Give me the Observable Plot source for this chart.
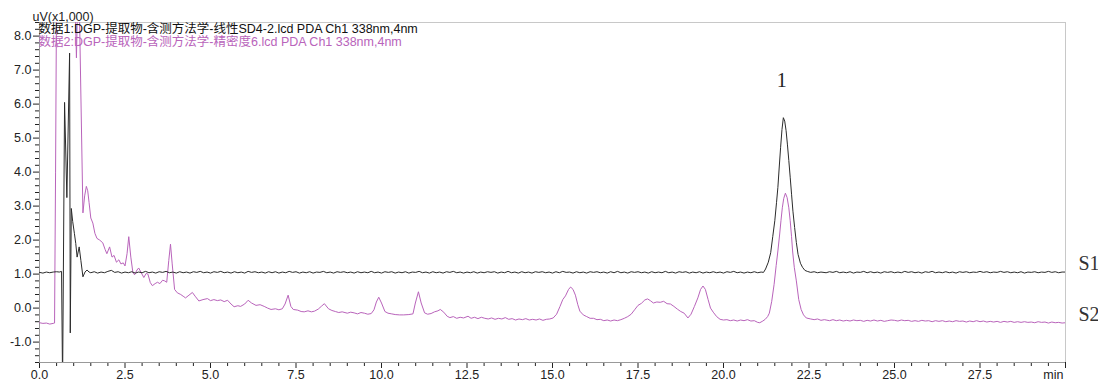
<!DOCTYPE html>
<html><head><meta charset="utf-8">
<script src="https://cdn.jsdelivr.net/npm/d3@7"></script>
<script src="https://cdn.jsdelivr.net/npm/@observablehq/plot@0.6"></script>
<style>html,body{margin:0;padding:0;background:#fff;overflow:hidden}</style>
</head><body><div id="chart"></div>
<script>
// ---- data (time in min, signal in uV x1,000) ----
const xTicks = [0,2.5,5,7.5,10,12.5,15,17.5,20,22.5,25,27.5,30];
const xTickLabels = ["0.0","2.5","5.0","7.5","10.0","12.5","15.0","17.5","20.0","22.5","25.0","27.5",""];
const xUnit = "min";
const yTicks = [-1,0,1,2,3,4,5,6,7,8];
const yTickLabels = ["-1.0","0.0","1.0","2.0","3.0","4.0","5.0","6.0","7.0","8.0"];
const yUnit = "uV(x1,000)";
const legendLines = [
  "数据1:DGP-提取物-含测方法学-线性SD4-2.lcd PDA Ch1 338nm,4nm",
  "数据2:DGP-提取物-含测方法学-精密度6.lcd PDA Ch1 338nm,4nm"
];
const seriesNames = ["S1","S2"];
const peakLabels = [{time: 21.75, label: "1"}];

// S1 (black): flat list of time, value pairs
const s1Data = [
0,1.05, 0.1,1.03, 0.2,1.06, 0.3,1.04, 0.4,1.06, 0.5,1.07, 0.58,1.06, 0.645,1.08, 0.675,-2.2, 0.733,6.05, 0.8,3.25, 0.88,7.5, 0.9,-0.73, 0.93,2.93, 0.97,2.55, 1.02,2.2, 1.06,1.9, 1.1,1.5, 1.16,1.8, 1.21,1.4, 1.27,0.92, 1.33,1.06, 1.39,1.12, 1.45,1.06,
1.5,1.04, 1.6,1.07, 1.7,1.03, 1.8,1.06, 1.9,1.04, 2.0,1.08, 2.1,1.11, 2.2,1.05, 2.3,1.07, 2.4,1.03,
2.5,1.06, 2.6,1.04, 2.7,1.07, 2.8,1.03, 2.9,1.06, 3.0,1.04, 3.1,1.08, 3.2,1.04, 3.3,1.06, 3.4,1.03,
3.5,1.07, 3.6,1.05, 3.7,1.08, 3.8,1.04, 3.9,1.06, 4.0,1.03, 4.1,1.07, 4.2,1.04, 4.3,1.06, 4.4,1.03,
4.5,1.07, 4.6,1.05, 4.7,1.08, 4.8,1.04, 4.9,1.06, 5.0,1.03, 5.1,1.07, 5.2,1.05, 5.3,1.08, 5.4,1.04,
5.5,1.06, 5.6,1.03, 5.7,1.07, 5.8,1.04, 5.9,1.06, 6.0,1.03, 6.1,1.08, 6.2,1.05, 6.3,1.07, 6.4,1.04,
6.5,1.06, 6.6,1.03, 6.7,1.07, 6.8,1.04, 6.9,1.07, 7.0,1.03, 7.1,1.06, 7.2,1.04, 7.3,1.08, 7.4,1.05,
7.5,1.07, 7.6,1.03, 7.7,1.06, 7.8,1.04, 7.9,1.07, 8.0,1.03, 8.1,1.06, 8.2,1.05, 8.3,1.08, 8.4,1.04,
8.5,1.06, 8.6,1.03, 8.7,1.07, 8.8,1.05, 8.9,1.07, 9.0,1.04, 9.1,1.06, 9.2,1.03, 9.3,1.07, 9.4,1.04,
9.5,1.06, 9.6,1.04, 9.7,1.08, 9.8,1.04, 9.9,1.06, 10.0,1.03, 10.1,1.07, 10.2,1.05, 10.3,1.07, 10.4,1.03,
10.5,1.06, 10.6,1.04, 10.7,1.07, 10.8,1.03, 10.9,1.06, 11.0,1.05, 11.1,1.08, 11.2,1.04, 11.3,1.06, 11.4,1.03,
11.5,1.07, 11.6,1.04, 11.7,1.06, 11.8,1.03, 11.9,1.07, 12.0,1.05, 12.1,1.08, 12.2,1.04, 12.3,1.06, 12.4,1.03,
12.5,1.06, 12.6,1.04, 12.7,1.07, 12.8,1.03, 12.9,1.06, 13.0,1.04, 13.1,1.07, 13.2,1.05, 13.3,1.07, 13.4,1.03,
13.5,1.06, 13.6,1.04, 13.7,1.08, 13.8,1.04, 13.9,1.06, 14.0,1.03, 14.1,1.07, 14.2,1.04, 14.3,1.06, 14.4,1.03,
14.5,1.07, 14.6,1.05, 14.7,1.07, 14.8,1.04, 14.9,1.06, 15.0,1.03, 15.1,1.07, 15.2,1.04, 15.3,1.08, 15.4,1.05,
15.5,1.06, 15.6,1.03, 15.7,1.07, 15.8,1.04, 15.9,1.06, 16.0,1.03, 16.1,1.07, 16.2,1.05, 16.3,1.07, 16.4,1.04,
16.5,1.06, 16.6,1.03, 16.7,1.07, 16.8,1.04, 16.9,1.08, 17.0,1.04, 17.1,1.06, 17.2,1.03, 17.3,1.07, 17.4,1.05,
17.5,1.07, 17.6,1.04, 17.7,1.06, 17.8,1.03, 17.9,1.07, 18.0,1.04, 18.1,1.06, 18.2,1.04, 18.3,1.08, 18.4,1.04,
18.5,1.06, 18.6,1.03, 18.7,1.07, 18.8,1.05, 18.9,1.07, 19.0,1.03, 19.1,1.06, 19.2,1.04, 19.3,1.07, 19.4,1.03,
19.5,1.06, 19.6,1.04, 19.7,1.07, 19.8,1.04, 19.9,1.06, 20.0,1.03, 20.1,1.07, 20.2,1.05, 20.3,1.08, 20.4,1.04,
20.5,1.06, 20.6,1.03, 20.7,1.06, 20.8,1.04, 20.9,1.07, 21.0,1.04, 21.1,1.06, 21.17,1.05,
21.23,1.15, 21.31,1.35, 21.38,1.63, 21.44,2.1, 21.5,2.57, 21.55,3.1, 21.59,3.55, 21.63,4.15, 21.67,4.73, 21.71,5.25, 21.75,5.6, 21.79,5.5, 21.83,5.22, 21.87,4.8, 21.91,4.34, 21.95,3.85, 21.99,3.35, 22.03,2.85, 22.08,2.37, 22.13,1.93, 22.18,1.58, 22.25,1.32, 22.31,1.2, 22.38,1.11, 22.45,1.08,
22.55,1.05, 22.65,1.07, 22.75,1.04, 22.85,1.06, 23.0,1.04, 23.1,1.07, 23.2,1.05, 23.3,1.08, 23.4,1.04, 23.5,1.06,
23.6,1.04, 23.7,1.07, 23.8,1.03, 23.9,1.06, 24.0,1.05, 24.1,1.08, 24.2,1.04, 24.3,1.07, 24.4,1.04, 24.5,1.06,
24.6,1.03, 24.7,1.07, 24.8,1.05, 24.9,1.07, 25.0,1.04, 25.1,1.06, 25.2,1.04, 25.3,1.08, 25.4,1.05, 25.5,1.07,
25.6,1.04, 25.7,1.06, 25.8,1.03, 25.9,1.07, 26.0,1.05, 26.1,1.08, 26.2,1.04, 26.3,1.06, 26.4,1.04, 26.5,1.07,
26.6,1.04, 26.7,1.06, 26.8,1.03, 26.9,1.07, 27.0,1.05, 27.1,1.07, 27.2,1.04, 27.3,1.06, 27.4,1.05, 27.5,1.08,
27.6,1.05, 27.7,1.07, 27.8,1.04, 27.9,1.06, 28.0,1.05, 28.1,1.08, 28.2,1.05, 28.3,1.07, 28.4,1.04, 28.5,1.06,
28.6,1.04, 28.7,1.07, 28.8,1.03, 28.9,1.06, 29.0,1.05, 29.1,1.07, 29.2,1.04, 29.3,1.06, 29.4,1.05, 29.5,1.08,
29.6,1.05, 29.7,1.07, 29.8,1.04, 29.9,1.06, 30.0,1.06
];

// S2 (purple): flat list of time, value pairs
const s2Data = [
0,-0.43, 0.1,-0.45, 0.2,-0.44, 0.3,-0.47, 0.4,-0.45, 0.44,-0.44, 0.47,4.0, 0.5,9.5, 0.6,13, 0.8,14, 1.0,11, 1.05,8.6, 1.08,7.36, 1.11,8.8, 1.14,10, 1.17,8.6,
1.27,2.8, 1.32,3.3, 1.37,3.58, 1.41,3.45, 1.45,3.1, 1.5,2.65, 1.56,2.5, 1.62,2.2, 1.68,2.05, 1.76,2.0, 1.85,1.92, 1.92,1.72, 1.97,1.6,
2.05,1.8, 2.12,1.5, 2.18,1.55, 2.25,1.35, 2.32,1.42, 2.38,1.3, 2.45,1.33, 2.5,1.24, 2.56,1.6, 2.61,2.1, 2.67,1.5, 2.73,1.05, 2.78,0.98,
2.85,1.12, 2.9,1.18, 2.97,1.05, 3.05,0.9, 3.12,1.02, 3.17,1.0, 3.24,0.75, 3.3,0.66, 3.38,0.72, 3.45,0.76, 3.52,0.72, 3.6,0.82, 3.66,0.8,
3.72,0.76, 3.78,1.4, 3.83,1.88, 3.88,1.3, 3.95,0.55, 4.03,0.45, 4.13,0.4, 4.2,0.35, 4.27,0.3, 4.37,0.38, 4.47,0.46, 4.55,0.35, 4.66,0.21,
4.78,0.25, 4.91,0.28, 5.0,0.22, 5.1,0.25, 5.2,0.22, 5.3,0.24, 5.4,0.19, 5.5,0.23, 5.6,0.12, 5.69,0.04, 5.8,0.07, 5.88,0.05, 6.0,0.12,
6.1,0.23, 6.2,0.15, 6.33,0.08, 6.45,0.1, 6.57,0.05, 6.67,0.0, 6.77,-0.04, 6.9,-0.02, 7.0,-0.05, 7.1,-0.02, 7.18,0.12, 7.27,0.38, 7.35,0.05,
7.42,-0.04, 7.55,-0.06, 7.65,-0.1, 7.74,-0.11, 7.85,-0.08, 7.95,-0.11, 8.04,-0.09, 8.15,-0.03, 8.25,0.06, 8.33,0.13, 8.45,-0.02, 8.55,-0.07,
8.65,-0.1, 8.75,-0.13, 8.85,-0.11, 9.0,-0.15, 9.1,-0.12, 9.2,-0.14, 9.3,-0.17, 9.4,-0.13, 9.5,-0.15, 9.6,-0.18, 9.7,-0.16, 9.78,-0.05,
9.85,0.18, 9.92,0.32, 10.0,0.15, 10.1,-0.1, 10.19,-0.15, 10.3,-0.17, 10.4,-0.19, 10.53,-0.2, 10.65,-0.2, 10.8,-0.19, 10.92,-0.17,
10.99,0.15, 11.08,0.48, 11.16,0.15, 11.26,-0.14, 11.35,-0.18, 11.45,-0.16, 11.55,-0.11, 11.65,-0.08, 11.72,-0.04, 11.82,-0.12, 11.92,-0.24,
12.0,-0.28, 12.1,-0.25, 12.2,-0.3, 12.3,-0.27, 12.4,-0.29, 12.53,-0.24, 12.62,-0.3, 12.72,-0.27, 12.82,-0.31, 12.92,-0.27, 13.02,-0.3,
13.12,-0.32, 13.22,-0.29, 13.32,-0.33, 13.42,-0.3, 13.52,-0.32, 13.62,-0.28, 13.72,-0.33, 13.82,-0.31, 13.92,-0.35, 14.02,-0.32,
14.12,-0.34, 14.22,-0.31, 14.32,-0.35, 14.42,-0.33, 14.52,-0.35, 14.62,-0.32, 14.72,-0.36, 14.82,-0.33, 14.92,-0.32, 15.02,-0.29,
15.12,-0.18, 15.22,0.05, 15.3,0.25, 15.38,0.36, 15.47,0.55, 15.53,0.62, 15.6,0.55, 15.67,0.38, 15.74,0.1, 15.8,-0.09, 15.9,-0.2,
16.0,-0.25, 16.1,-0.3, 16.2,-0.3, 16.3,-0.34, 16.4,-0.33, 16.5,-0.37, 16.6,-0.35, 16.7,-0.38, 16.8,-0.35, 16.9,-0.37, 17.0,-0.34,
17.1,-0.3, 17.2,-0.25, 17.3,-0.18, 17.4,-0.05, 17.5,0.08, 17.6,0.14, 17.7,0.24, 17.78,0.27, 17.86,0.22, 17.95,0.15, 18.05,0.18,
18.15,0.17, 18.25,0.2, 18.35,0.13, 18.45,0.12, 18.55,0.05, 18.65,-0.03, 18.75,-0.1, 18.85,-0.15, 18.96,-0.29, 19.05,-0.18, 19.15,0.05,
19.25,0.3, 19.33,0.55, 19.4,0.65, 19.47,0.55, 19.55,0.25, 19.62,0.0, 19.7,-0.12, 19.8,-0.25, 19.9,-0.33, 20.0,-0.35, 20.1,-0.34,
20.2,-0.37, 20.3,-0.35, 20.4,-0.38, 20.5,-0.35, 20.6,-0.37, 20.7,-0.34, 20.8,-0.38, 20.9,-0.37, 21.0,-0.42, 21.06,-0.43, 21.15,-0.38,
21.22,-0.33, 21.29,-0.25, 21.34,-0.15, 21.41,0.2, 21.48,0.7, 21.54,1.25, 21.59,1.68, 21.64,2.15, 21.68,2.57, 21.72,2.95, 21.76,3.22,
21.81,3.38, 21.86,3.25, 21.91,2.95, 21.95,2.57, 21.99,2.1, 22.02,1.68, 22.07,1.2, 22.13,0.8, 22.2,0.25, 22.27,-0.04, 22.34,-0.2,
22.42,-0.29, 22.55,-0.32, 22.65,-0.34, 22.75,-0.32, 22.85,-0.36, 22.95,-0.34,
23.0,-0.35, 23.1,-0.37, 23.2,-0.34, 23.3,-0.37, 23.4,-0.35, 23.5,-0.38, 23.6,-0.36, 23.7,-0.38, 23.8,-0.35, 23.9,-0.37,
24.0,-0.36, 24.1,-0.39, 24.2,-0.36, 24.3,-0.38, 24.4,-0.35, 24.5,-0.38, 24.6,-0.36, 24.7,-0.39, 24.8,-0.37, 24.9,-0.35,
25.0,-0.36, 25.1,-0.38, 25.2,-0.35, 25.3,-0.37, 25.4,-0.36, 25.5,-0.39, 25.6,-0.37, 25.7,-0.39, 25.8,-0.36, 25.9,-0.38,
26.0,-0.37, 26.1,-0.4, 26.2,-0.37, 26.3,-0.39, 26.4,-0.37, 26.5,-0.4, 26.6,-0.38, 26.7,-0.4, 26.8,-0.37, 26.9,-0.39,
27.0,-0.38, 27.1,-0.41, 27.2,-0.38, 27.3,-0.4, 27.4,-0.37, 27.5,-0.4, 27.6,-0.38, 27.7,-0.41, 27.8,-0.39, 27.9,-0.41,
28.0,-0.39, 28.1,-0.42, 28.2,-0.39, 28.3,-0.41, 28.4,-0.39, 28.5,-0.42, 28.6,-0.4, 28.7,-0.42, 28.8,-0.4, 28.9,-0.42,
29.0,-0.41, 29.1,-0.43, 29.2,-0.4, 29.3,-0.42, 29.4,-0.41, 29.5,-0.44, 29.6,-0.41, 29.7,-0.43, 29.8,-0.42, 29.9,-0.44, 30.0,-0.43
];

// ---- build ----
const colors = {S1: "#2b2b2b", S2: "#b964bb"};
function toPoints(flat, name) {
  const out = [];
  for (let i = 0; i < flat.length; i += 2) out.push({t: flat[i], v: flat[i + 1], series: name});
  return out;
}
const pts1 = toPoints(s1Data, seriesNames[0]);
const pts2 = toPoints(s2Data, seriesNames[1]);
const ends = [pts1[pts1.length - 1], pts2[pts2.length - 1]];
const peaks = peakLabels.map(p => {
  const a = d3.greatest(pts1.filter(d => Math.abs(d.t - p.time) < 0.4), d => d.v);
  return {t: a.t, v: a.v, label: p.label};
});
const xMinor = d3.range(0, 30.001, 0.5).filter(d => !xTicks.includes(d));
const yMinor = d3.range(-16, 85, 2).map(d => d / 10).filter(d => !yTicks.includes(d));
const sans = "'Liberation Sans', Arial, 'Noto Sans CJK SC', sans-serif";
const serif = "'Liberation Serif', 'Times New Roman', serif";

const chart = Plot.plot({
  width: 1098, height: 382,
  marginLeft: 39, marginRight: 33, marginTop: 22, marginBottom: 20,
  x: {domain: [0, 30], label: null},
  y: {domain: [-1.6, 8.4], label: null},
  style: {fontFamily: sans, fontSize: "12.5px", color: "#222", background: "#fff", overflow: "visible"},
  marks: [
    Plot.ruleY([8.4], {stroke: "#c8c8c8"}),
    Plot.ruleX([30], {stroke: "#c8c8c8"}),
    Plot.axisY({ticks: yMinor, tickSize: 4, tickFormat: () => "", label: null, stroke: "#222"}),
    Plot.axisY({ticks: yTicks, tickSize: 6, tickPadding: 2, label: null, stroke: "#222",
      tickFormat: d => yTickLabels[yTicks.indexOf(d)], fontSize: 12.5, fill: "#222"}),
    Plot.axisX({ticks: xMinor, tickSize: 4, tickFormat: () => "", label: null, stroke: "#222"}),
    Plot.axisX({ticks: xTicks, tickSize: 6, tickPadding: 2, label: null, stroke: "#222",
      tickFormat: d => xTickLabels[xTicks.indexOf(d)], fontSize: 12.5, fill: "#222"}),
    Plot.ruleX([0], {stroke: "#999"}),
    Plot.ruleY([-1.6], {stroke: "#999"}),
    Plot.text([xUnit], {x: 30, y: -1.6, text: d => d, textAnchor: "end", lineAnchor: "top", dx: -2, dy: 8, fontSize: 12.5, fill: "#222"}),
    Plot.line(pts2, {x: "t", y: "v", stroke: colors.S2, strokeWidth: 1, clip: true}),
    Plot.line(pts1, {x: "t", y: "v", stroke: colors.S1, strokeWidth: 1, clip: true}),
    Plot.text([yUnit], {frameAnchor: "top-left", text: d => d, textAnchor: "start", lineAnchor: "middle", dx: -7, dy: -6, fontSize: 12.5, fill: "#222"}),
    Plot.text([legendLines[0]], {frameAnchor: "top-left", text: d => d, textAnchor: "start", lineAnchor: "middle", dx: -1, dy: 6.5, fontSize: 12.5, fill: "#111"}),
    Plot.text([legendLines[1]], {frameAnchor: "top-left", text: d => d, textAnchor: "start", lineAnchor: "middle", dx: -1, dy: 19.5, fontSize: 12.5, fill: colors.S2}),
    Plot.text(ends, {x: "t", y: "v", text: "series", textAnchor: "start", lineAnchor: "middle", dx: 13, dy: -8, fontFamily: serif, fontSize: 20, fill: "#333"}),
    Plot.text(peaks, {x: "t", y: "v", text: "label", textAnchor: "middle", lineAnchor: "middle", dx: -1.5, dy: -37, fontFamily: serif, fontSize: 20, fill: "#222"})
  ]
});
document.getElementById("chart").appendChild(chart);
</script>
</body></html>
